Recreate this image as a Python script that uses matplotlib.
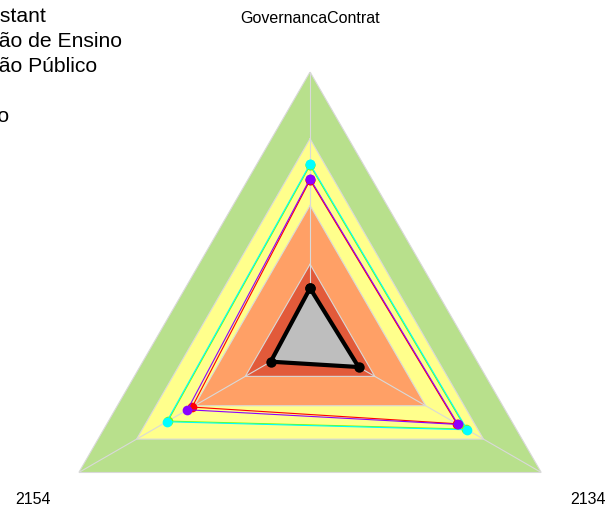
import numpy as np
import matplotlib
matplotlib.use("Agg")
import matplotlib.pyplot as plt
from matplotlib.lines import Line2D

plt.rcParams['font.family'] = ['Liberation Sans', 'DejaVu Sans']

# axes of the radar, clockwise from the top
axis_labels = ['GovernancaContrat', '2134', '2154']

# background bands (upper limit of each band, 0-100 scale)
band_levels = [100, 75, 50, 28]
band_colors = ['#B8E08C', '#FFFF8C', '#FFA066', '#E25A3A']

# series values, same order as axis_labels
series_names = ['Co-Assistant', 'Instituição de Ensino', 'Instituição Público', 'Outro', 'Mercado']
series_colors = ['#7CFC00', '#00FFFF', '#FF0000', '#8B00FF', '#000000']
lime_vals = [65, 67.5, 61.5]
cyan_vals = [65.5, 68, 62]
red_vals = [59.5, 63.5, 51]
purple_vals = [60, 64, 53]
black_vals = [19, 21, 17]

theta = np.deg2rad(np.arange(len(axis_labels)) * 360.0 / len(axis_labels))
theta_c = np.append(theta, theta[0])

def closed(v):
    return np.append(v, v[0])

fig = plt.figure(figsize=(6.09, 5.14), dpi=100)
ax = fig.add_axes([0.0706, -0.179, 0.877, 1.039], projection='polar')
ax.set_theta_zero_location('N')
ax.set_theta_direction(-1)
ax.set_ylim(0, 100)
ax.set_xticks([])
ax.set_yticks([])
ax.grid(False)
ax.spines['polar'].set_visible(False)
ax.patch.set_alpha(0)

# bands
for lvl, col in zip(band_levels, band_colors):
    ax.fill(theta_c, [lvl] * len(theta_c), color=col, lw=0, zorder=1)

# grid lines
for lvl in band_levels:
    ax.plot(theta_c, [lvl] * len(theta_c), color='#D9D9D9', lw=0.8, zorder=2)
for t in theta:
    ax.plot([t, t], [0, 100], color='#D9D9D9', lw=0.8, zorder=2)

# black series with grey fill
ax.fill(theta_c, closed(black_vals), color='#BEBEBE', lw=0, zorder=3)

for vals, col in [(lime_vals, series_colors[0]), (cyan_vals, series_colors[1]),
                  (red_vals, series_colors[2]), (purple_vals, series_colors[3])]:
    ax.plot(theta_c, closed(vals), color=col, lw=0.8, marker='o', ms=7,
            markeredgewidth=0, zorder=4)

ax.plot(theta_c, closed(black_vals), color='black', lw=3, marker='o', ms=7.5,
        markeredgewidth=0, zorder=5)

# axis labels
for t, lab in zip(theta, axis_labels):
    ax.text(t, 120, lab, ha='center', va='center', fontsize=11.5, clip_on=False)

# legend (partly outside the figure, like the original)
handles = [Line2D([], [], color=c, marker='o', lw=1, ms=7) for c in series_colors]
fig.legend(handles, series_names, loc='upper left', bbox_to_anchor=(-0.2165, 0.986),
           frameon=False, fontsize=15.2, borderpad=0, borderaxespad=0,
           handlelength=2, handletextpad=0.8, labelspacing=0.28)

fig.savefig('out.png', dpi=100)
